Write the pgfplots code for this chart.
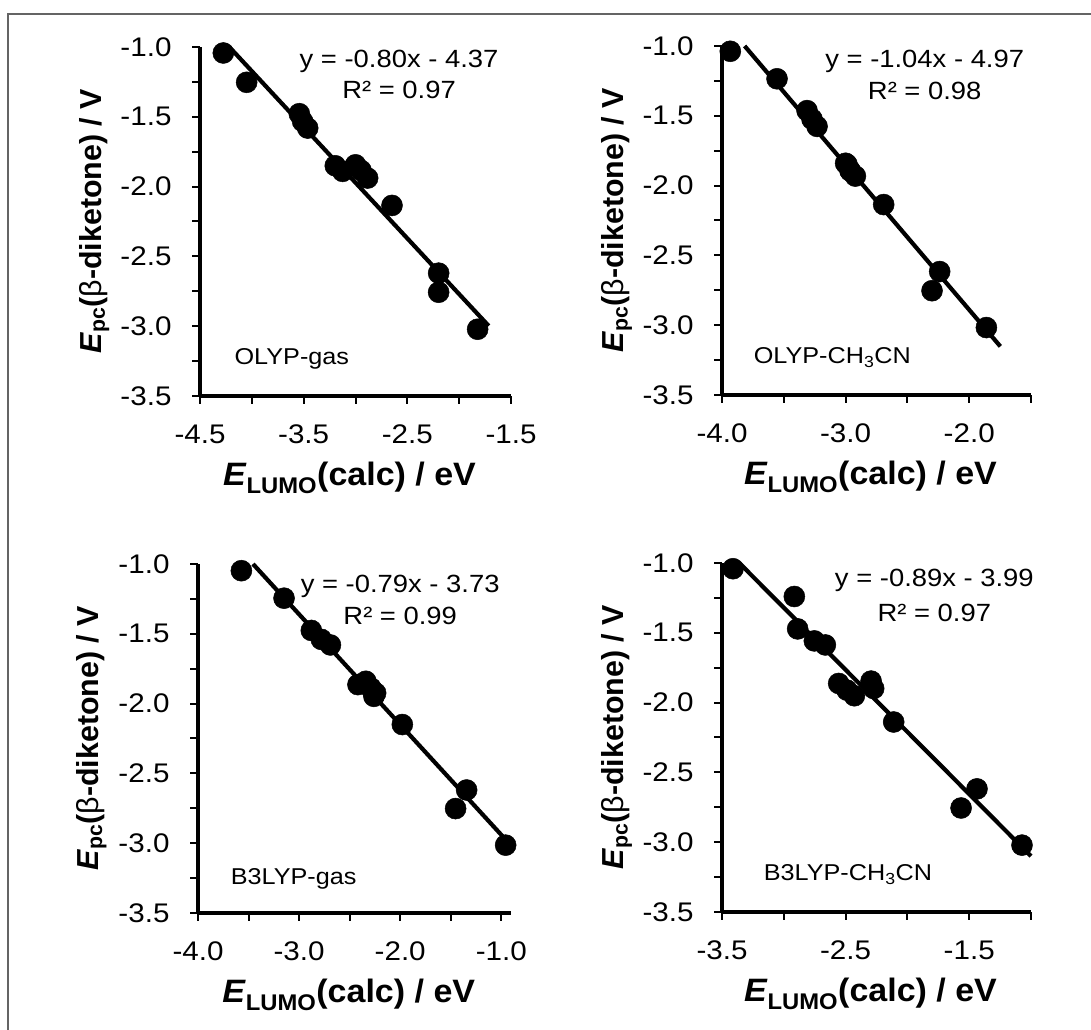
\documentclass[border=0pt]{standalone}
\usepackage{fontspec}
\setmainfont{Liberation Sans}
\usepackage{graphicx}
\usepackage{pgfplots}
\pgfplotsset{compat=1.18}
\definecolor{framegray}{HTML}{646464}
\newcommand{\sx}[1]{\scalebox{1.1}[1]{#1}}
\tikzset{
  eq/.style={anchor=base, font=\fontsize{25}{30}\selectfont},
  lab/.style={anchor=base west, font=\fontsize{23}{28}\selectfont},
}
\pgfplotsset{
  panel/.style={
    scale only axis,
    height=349bp,
    ymin=-3.5, ymax=-1.0,
    ytick={-3.5,-3.0,-2.5,-2.0,-1.5,-1.0},
    yticklabels={\sx{-3.5},\sx{-3.0},\sx{-2.5},\sx{-2.0},\sx{-1.5},\sx{-1.0}},
    minor ytick={-3.25,-2.75,-2.25,-1.75,-1.25},
    axis x line*=bottom, axis y line*=left,
    axis line style={-, line width=3.6bp, black},
    tick align=outside,
    major tick length=8bp, minor tick length=8bp,
    tick style={black, line width=2bp},
    minor tick style={black, line width=2bp},
    tick label style={font=\fontsize{27}{32}\selectfont},
    xticklabel style={yshift=-17bp},
    yticklabel style={xshift=-17bp},
    xlabel={\scalebox{1.05}[1]{\textbf{\textit{E}\textsubscript{LUMO}(calc) / eV}}},
    ylabel={\textbf{\textit{E}\textsubscript{pc}(\textmd{β}-diketone) / V}},
    xlabel style={font=\fontsize{32.5}{38}\selectfont, at={(axis description cs:0.5,0)}, anchor=base, yshift=-90bp, xshift=-6bp},
    ylabel style={font=\fontsize{30.5}{36}\selectfont, at={(axis description cs:-0.34,0.5)}, anchor=center},
    clip=false,
  },
  pts/.style={only marks, mark=*, mark size=10.5bp, mark options={draw=black, fill=black, line width=0.5bp}},
  fit/.style={no marks, black, line width=4.2bp},
}
\begin{document}
\begin{tikzpicture}[x=1bp,y=1bp]
\useasboundingbox (0,0) rectangle (1091,1030);
\fill[white] (0,0) rectangle (1091,1030);
\draw[framegray, line width=2bp] (7.5,0) -- (7.5,1016) -- (1091,1016);

% Panel 1: OLYP-gas
\begin{axis}[panel, at={(200bp,634bp)}, anchor=south west, width=311bp,
  xmin=-4.5, xmax=-1.5,
  xtick={-4.5,-3.5,-2.5,-1.5}, xticklabels={\sx{-4.5},\sx{-3.5},\sx{-2.5},\sx{-1.5}},
  minor xtick={-4.0,-3.0,-2.0}]
\addplot[fit] coordinates {(-4.217,-1.0) (-1.715,-2.998)};
\addplot[pts] coordinates {
(-4.275,-1.043) (-4.05,-1.253) (-3.542,-1.478) (-3.51,-1.533) (-3.461,-1.581)
(-3.195,-1.851) (-3.124,-1.891) (-3.0,-1.844) (-2.947,-1.884) (-2.883,-1.939)
(-2.648,-2.135) (-2.198,-2.62) (-2.198,-2.757) (-1.822,-3.022)};
\node[eq] at (axis cs:-2.58,-1.15) {\sx{y = -0.80x - 4.37}};
\node[eq] at (axis cs:-2.58,-1.37) {\sx{R² = 0.97}};
\node[lab] at (axis cs:-4.20,-3.278) {\sx{OLYP-gas}};
\end{axis}

% Panel 2: OLYP-CH3CN
\begin{axis}[panel, at={(722bp,635bp)}, anchor=south west, width=309bp,
  xmin=-4.0, xmax=-1.5,
  xtick={-4.0,-3.0,-2.0}, xticklabels={\sx{-4.0},\sx{-3.0},\sx{-2.0}},
  minor xtick={-3.5,-2.5,-1.5}]
\addplot[fit] coordinates {(-3.817,-1.0) (-1.748,-3.152)};
\addplot[pts] coordinates {
(-3.933,-1.038) (-3.555,-1.235) (-3.312,-1.463) (-3.272,-1.524) (-3.231,-1.576)
(-3.00,-1.84) (-2.989,-1.848) (-2.965,-1.89) (-2.962,-1.896) (-2.921,-1.932)
(-2.692,-2.136) (-2.239,-2.616) (-2.301,-2.753) (-1.861,-3.017)};
\node[eq] at (axis cs:-2.36,-1.151) {\sx{y = -1.04x - 4.97}};
\node[eq] at (axis cs:-2.36,-1.385) {\sx{R² = 0.98}};
\node[lab] at (axis cs:-3.771,-3.277) {\sx{OLYP-CH\textsubscript{3}CN}};
\end{axis}

% Panel 3: B3LYP-gas
\begin{axis}[panel, at={(198bp,117bp)}, anchor=south west, width=313.4bp,
  xmin=-4.0, xmax=-0.9,
  xtick={-4.0,-3.0,-2.0,-1.0}, xticklabels={\sx{-4.0},\sx{-3.0},\sx{-2.0},\sx{-1.0}},
  minor xtick={-3.5,-2.5,-1.5}]
\addplot[fit] coordinates {(-3.456,-1.0) (-0.96,-2.972)};
\addplot[pts] coordinates {
(-3.571,-1.048) (-3.149,-1.245) (-2.879,-1.476) (-2.78,-1.54) (-2.69,-1.58)
(-2.418,-1.864) (-2.34,-1.84) (-2.29,-1.888) (-2.26,-1.948) (-2.243,-1.924)
(-1.979,-2.15) (-1.343,-2.619) (-1.452,-2.752) (-0.957,-3.014)};
\node[eq] at (axis cs:-2.0,-1.202) {\sx{y = -0.79x - 3.73}};
\node[eq] at (axis cs:-2.0,-1.43) {\sx{R² = 0.99}};
\node[lab] at (axis cs:-3.71,-3.298) {\sx{B3LYP-gas}};
\end{axis}

% Panel 4: B3LYP-CH3CN
\begin{axis}[panel, at={(722bp,118bp)}, anchor=south west, width=309bp,
  xmin=-3.5, xmax=-1.0,
  xtick={-3.5,-2.5,-1.5}, xticklabels={\sx{-3.5},\sx{-2.5},\sx{-1.5}},
  minor xtick={-3.0,-2.0,-1.0}]
\addplot[fit] coordinates {(-3.36,-1.0) (-1.0,-3.1)};
\addplot[pts] coordinates {
(-3.411,-1.041) (-2.915,-1.24) (-2.888,-1.472) (-2.753,-1.558) (-2.664,-1.587)
(-2.556,-1.863) (-2.489,-1.911) (-2.429,-1.951) (-2.294,-1.846) (-2.273,-1.899)
(-2.111,-2.139) (-1.437,-2.618) (-1.566,-2.755) (-1.073,-3.021)};
\node[eq] at (axis cs:-1.782,-1.168) {\sx{y = -0.89x - 3.99}};
\node[eq] at (axis cs:-1.782,-1.419) {\sx{R² = 0.97}};
\node[lab] at (axis cs:-3.19,-3.277) {\sx{B3LYP-CH\textsubscript{3}CN}};
\end{axis}
\end{tikzpicture}
\end{document}
